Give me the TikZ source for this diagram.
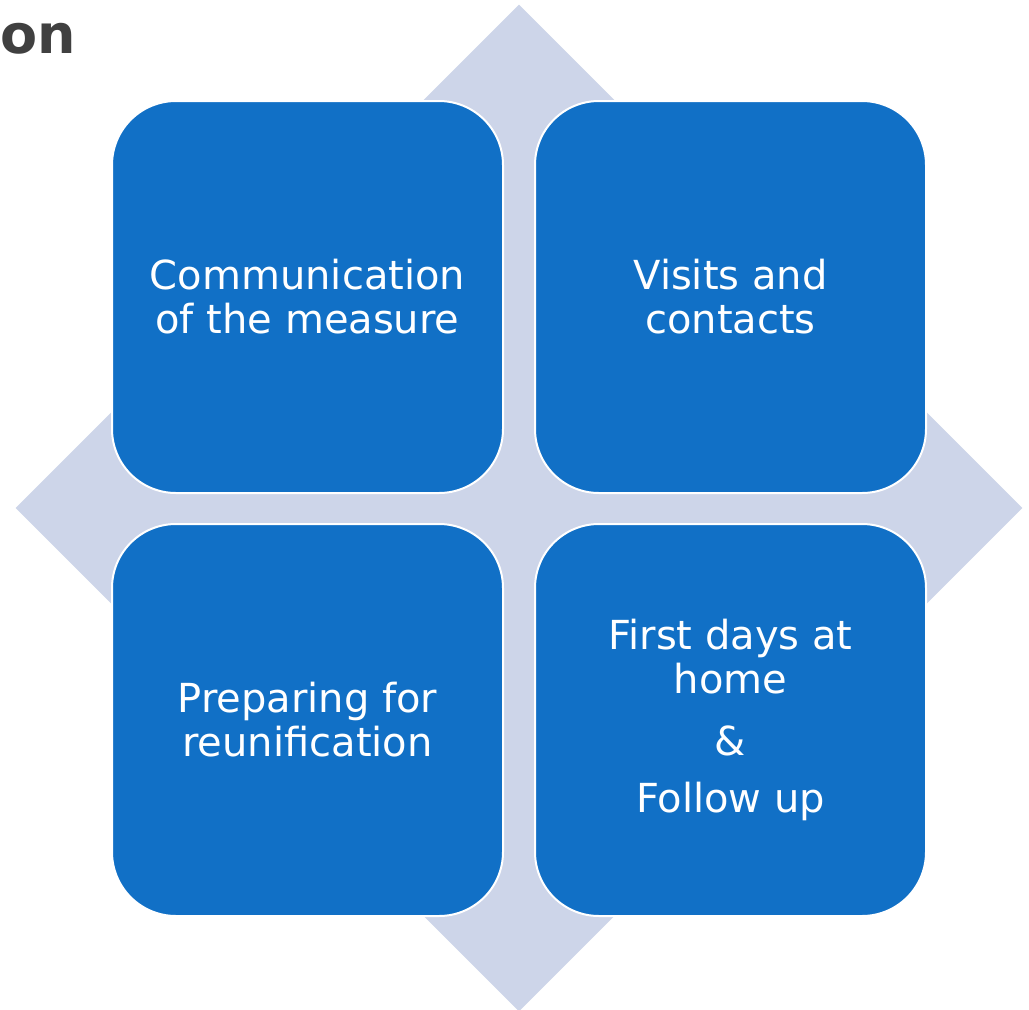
\documentclass[tikz,border=0pt]{standalone}
\usepackage{fontspec}
\setmainfont{DejaVu Sans}
\usetikzlibrary{shapes.geometric}
\definecolor{boxblue}{HTML}{1170C6}
\definecolor{backlav}{HTML}{CDD5E9}
\definecolor{headgray}{HTML}{404040}

\begin{document}
\begin{tikzpicture}[x=1pt,y=-1pt]
\useasboundingbox (0,0) rectangle (1029,1010);

\node[diamond, fill=backlav, inner sep=0pt, minimum width=1007pt, minimum height=1007pt] (back) at (519,508) {};

\node[anchor=base west, text=headgray, font=\fontsize{54}{60}\bfseries\selectfont, inner sep=0pt] (title) at (0,53) {on};

\begin{scope}[every node/.style={rectangle, rounded corners=64pt, draw=white, line width=2pt, fill=boxblue, text=white, align=center, minimum width=391pt, minimum height=392pt, font=\fontsize{40}{44}\selectfont}]
\node (0) at (307.5,297) {Communication\\of the measure}; 
\node (1) at (730.5,297) {Visits and\\contacts}; 
\node (2) at (307.5,720) {Preparing for\\reunification}; 
\node (3) at (730.5,720) {First days at\\home\\[18pt]\&\\[13pt]Follow up}; 
\end{scope}
\end{tikzpicture}
\end{document}
